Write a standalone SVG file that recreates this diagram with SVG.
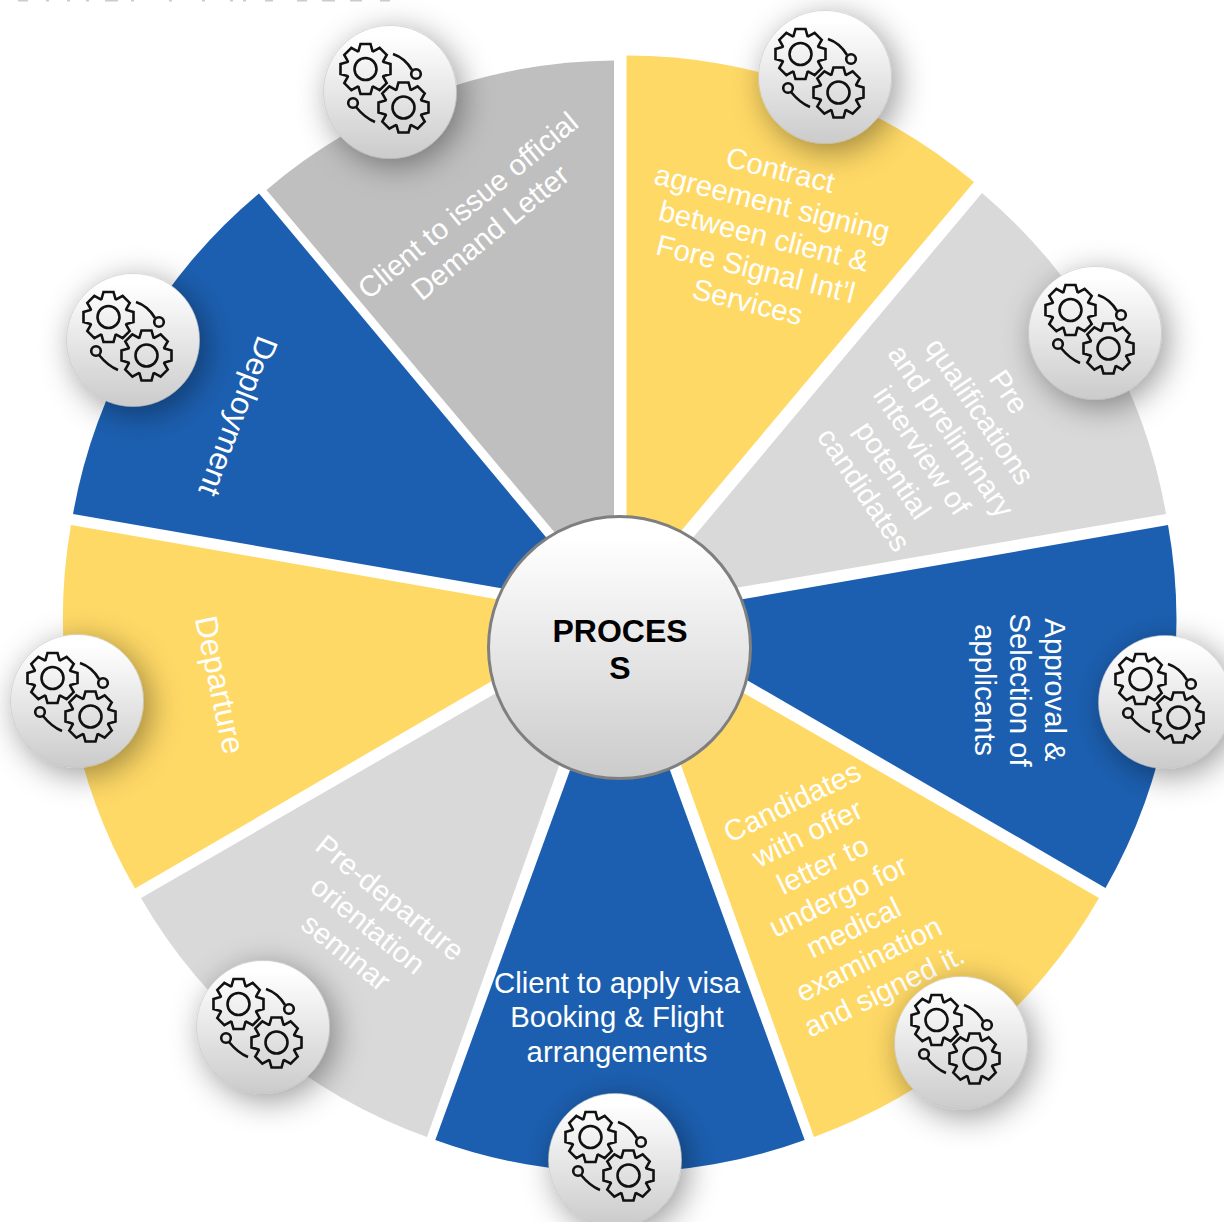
<svg xmlns="http://www.w3.org/2000/svg" xmlns:xlink="http://www.w3.org/1999/xlink" width="1224" height="1222" viewBox="0 0 1224 1222">
<style>
.y{fill:#FFD966}.b{fill:#1C5FB0}.l{fill:#D9D9D9}.g{fill:#BFBFBF}
.t{font-family:"Liberation Sans",Arial,sans-serif;font-size:29.3px;fill:#fff;text-anchor:middle}
.big{font-size:31.5px}
.c{font-family:"Liberation Sans",Arial,sans-serif;font-size:32px;font-weight:bold;fill:#000;text-anchor:middle}
.ln{fill:none;stroke:#111;stroke-width:2.6;stroke-linejoin:miter}
</style>
<defs>
<linearGradient id="gr" x1="0" y1="0" x2="0" y2="1"><stop offset=".08" stop-color="#fff"/><stop offset="1" stop-color="#CBCBCB"/></linearGradient>
<filter id="sh" x="-70%" y="-70%" width="240%" height="240%"><feDropShadow dx="6" dy="7" stdDeviation="16" flood-color="#000" flood-opacity=".4"/></filter>
<polygon id="gear" class="ln" points="-7,-18 -5,-25 5,-25 7,-18 7.78,-17.68 14.14,-21.21 21.21,-14.14 17.68,-7.78 18,-7 25,-5 25,5 18,7 17.68,7.78 21.21,14.14 14.14,21.21 7.78,17.68 7,18 5,25 -5,25 -7,18 -7.78,17.68 -14.14,21.21 -21.21,14.14 -17.68,7.78 -18,7 -25,5 -25,-5 -18,-7 -17.68,-7.78 -21.21,-14.14 -14.14,-21.21 -7.78,-17.68"/>
<g id="badge">
<circle r="66.5" fill="url(#gr)" stroke="#bbb" stroke-width=".5" filter="url(#sh)"/>
<use xlink:href="#gear" href="#gear" x="-24.500" y="-23"/><circle class="ln" cx="-24.500" cy="-23" r="11"/>
<use xlink:href="#gear" href="#gear" x="13.500" y="15.500"/><circle class="ln" cx="13.500" cy="15.500" r="11"/>
<circle class="ln" cx="26" cy="-18" r="4.800"/><path class="ln" d="M3-38Q15-34 22-22"/>
<circle class="ln" cx="-37" cy="11" r="4.800"/><path class="ln" d="M-34 15Q-25 26-15 30"/>
</g>
</defs>
<rect width="1224" height="1222" fill="#fff"/>
<g id="title-remnant" fill="#ccc"><rect x="18" y="0" width="10" height="1.5"/><rect x="46" y="0" width="3" height="1.5"/><rect x="67" y="0" width="3" height="1.5"/><rect x="86" y="0" width="3" height="1.5"/><rect x="105" y="0" width="13" height="1.5"/><rect x="131" y="0" width="3" height="1.5"/><rect x="169" y="0" width="3" height="1.5"/><rect x="202" y="0" width="3" height="1.5"/><rect x="230" y="0" width="3" height="1.5"/><rect x="243" y="0" width="3" height="1.5"/><rect x="265" y="0" width="8" height="1.5"/><rect x="297" y="0" width="10" height="1.5"/><rect x="322" y="0" width="13" height="1.5"/><rect x="350" y="0" width="12" height="1.5"/><rect x="380" y="0" width="10" height="1.5"/></g>
<g id="wedges">
<path id="w1" class="g" d="M614 603L266.500 190A540 540 0 0 1 614 60.500Z"/>
<path id="w2" class="y" d="M626.500 596V55.500A540 540 0 0 1 974 182Z"/>
<path id="w3" class="l" d="M636.500 605L982 193A540 540 0 0 1 1166 514Z"/>
<path id="w4" class="b" d="M638.700 617.300L1168 525A540 540 0 0 1 1105.500 888Z"/>
<path id="w5" class="y" d="M632.200 628.600L1099 898A540 540 0 0 1 814 1137Z"/>
<path id="w6" class="b" d="M620 633L804.700 1140A540 540 0 0 1 435.300 1140Z"/>
<path id="w7" class="l" d="M607.800 628.600L427 1137A540 540 0 0 1 141 898Z"/>
<path id="w8" class="y" d="M601.300 617.300L135 888.500A540 540 0 0 1 71 525Z"/>
<path id="w9" class="b" d="M603.500 606L73 514A540 540 0 0 1 259 193.500Z"/>
</g>
<g id="labels">
<g id="t1" transform="translate(479 219) rotate(-39.500)"><text y="-7.500" class="t">Client to issue official</text><text y="27.500" class="t">Demand Letter</text></g>
<g id="t2" transform="translate(764 236) rotate(14)"><text y="-58" class="t">Contract</text><text y="-24" class="t">agreement signing</text><text y="10" class="t">between client &amp;</text><text y="44" class="t">Fore Signal Int’l</text><text y="78" class="t">Services</text></g>
<g id="t3" transform="translate(936 441) rotate(56)"><text y="-78" class="t">Pre</text><text y="-43" class="t">qualifications</text><text y="-8" class="t">and preliminary</text><text y="27" class="t">interview of</text><text y="62" class="t">potential</text><text y="97" class="t">candidates</text></g>
<g id="t4" transform="translate(1009.500 690) rotate(90)"><text y="-35" class="t">Approval &amp;</text><text y="0" class="t">Selection of</text><text y="35" class="t">applicants</text></g>
<g id="t5" transform="translate(839 898) rotate(-26)"><text y="-97" class="t">Candidates</text><text y="-62" class="t">with offer</text><text y="-27" class="t">letter to</text><text y="8" class="t">undergo for</text><text y="43" class="t">medical</text><text y="78" class="t">examination</text><text y="113" class="t">and signed it.</text></g>
<g id="t6"><text x="617" y="993" class="t">Client to apply visa</text><text x="617" y="1027" class="t">Booking &amp; Flight</text><text x="617" y="1062" class="t">arrangements</text></g>
<g id="t7" transform="translate(368 925) rotate(39)"><text y="-25" class="t">Pre-departure</text><text y="10" class="t">orientation</text><text y="45" class="t">seminar</text></g>
<g id="t8" transform="translate(219 685) rotate(78)"><text y="10" class="t big">Departure</text></g>
<g id="t9" transform="translate(237.500 416) rotate(111)"><text y="10" class="t big">Deployment</text></g>
</g>
<g id="center"><circle cx="619.500" cy="647.500" r="131" fill="url(#gr)" stroke="#7F7F7F" stroke-width="3"/><text x="620" y="642" class="c">PROCES</text><text x="620" y="679" class="c">S</text></g>
<g id="b1"><use xlink:href="#badge" href="#badge" x="390" y="92"/></g>
<g id="b2"><use xlink:href="#badge" href="#badge" x="825" y="77"/></g>
<g id="b3"><use xlink:href="#badge" href="#badge" x="1095" y="333"/></g>
<g id="b4"><use xlink:href="#badge" href="#badge" x="1165" y="702"/></g>
<g id="b5"><use xlink:href="#badge" href="#badge" x="961" y="1043"/></g>
<g id="b6"><use xlink:href="#badge" href="#badge" x="615" y="1160"/></g>
<g id="b7"><use xlink:href="#badge" href="#badge" x="263" y="1027"/></g>
<g id="b8"><use xlink:href="#badge" href="#badge" x="77" y="701"/></g>
<g id="b9"><use xlink:href="#badge" href="#badge" x="133" y="340"/></g>
</svg>
